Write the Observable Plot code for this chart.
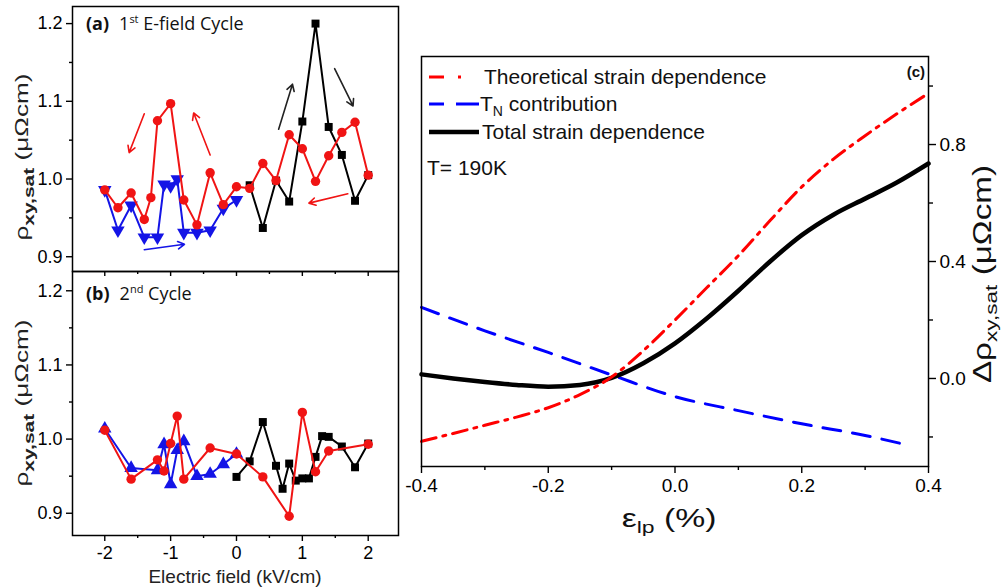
<!DOCTYPE html>
<html><head><meta charset="utf-8">
<script src="https://cdn.jsdelivr.net/npm/d3@7"></script>
<script src="https://cdn.jsdelivr.net/npm/@observablehq/plot@0.6"></script>
<style>
body{margin:0;background:#fff;}
#wrap{position:relative;width:1002px;height:588px;overflow:hidden;background:#fff;}
</style></head><body><div id="wrap"></div>
<script>
// ---------- Panel (a): 1st E-field cycle ----------
const aRedE   = [-2,-1.8,-1.6,-1.4,-1.3,-1.2,-1.0,-0.8,-0.6,-0.4,-0.2,0,0.2,0.4,0.6,0.8,1.0,1.2,1.4,1.6,1.8,2.0];
const aRedR   = [0.986,0.963,0.982,0.948,0.976,1.075,1.097,0.973,0.941,1.008,0.967,0.990,0.988,1.020,0.998,1.057,1.039,0.997,1.030,1.060,1.073,1.005];
const aBlueE  = [-2,-1.8,-1.6,-1.4,-1.2,-1.1,-1.0,-0.9,-0.8,-0.6,-0.4,-0.2,0];
const aBlueR  = [0.986,0.934,0.966,0.925,0.925,0.993,0.991,1.000,0.931,0.931,0.934,0.962,0.973];
const aBlackE = [0.2,0.4,0.6,0.8,1.0,1.2,1.4,1.6,1.8,2.0];
const aBlackR = [0.992,0.937,0.998,0.971,1.074,1.200,1.067,1.031,0.972,1.005];
// annotation arrows (data units): [x1,y1,x2,y2,color]
const aArrows = [
  [-1.40,1.084,-1.63,1.034,"red"],
  [-0.40,1.031,-0.65,1.085,"red"],
  [0.64,1.064,0.85,1.122,"black"],
  [1.49,1.142,1.77,1.094,"black"],
  [1.69,0.981,1.10,0.969,"red"],
  [-1.40,0.909,-0.79,0.916,"blue"]
];
// ---------- Panel (b): 2nd cycle ----------
const bBlueE  = [-2,-1.6,-1.2,-1.1,-1.0,-0.9,-0.8,-0.6,-0.4,-0.2,0];
const bBlueR  = [1.014,0.961,0.958,0.993,0.939,0.985,0.997,0.950,0.953,0.966,0.980];
const bRedE   = [-2,-1.6,-1.2,-1.1,-1.0,-0.9,-0.8,-0.4,0,0.4,0.8,1.0,1.2,1.4,2.0];
const bRedR   = [1.012,0.946,0.972,0.957,0.994,1.031,0.946,0.988,0.980,0.949,0.896,1.036,0.956,0.984,0.993];
const bBlackE = [0,0.2,0.4,0.6,0.7,0.8,0.9,1.0,1.1,1.2,1.3,1.4,1.6,1.8,2.0];
const bBlackR = [0.949,0.970,1.023,0.964,0.933,0.967,0.944,0.947,0.947,0.976,1.004,1.003,0.990,0.962,0.994];
// ---------- Panel (c): strain dependence ----------
const cStrain = [-0.4,-0.35,-0.3,-0.25,-0.2,-0.15,-0.1,-0.05,0,0.05,0.1,0.15,0.2,0.25,0.3,0.35,0.4];
const cTheory = [-0.215,-0.188,-0.160,-0.132,-0.100,-0.055,0.005,0.095,0.200,0.310,0.420,0.540,0.655,0.750,0.830,0.905,0.975];
const cTotal  = [0.014,0.000,-0.012,-0.022,-0.028,-0.022,0.002,0.052,0.120,0.205,0.300,0.400,0.490,0.560,0.615,0.670,0.735];
const cTNStrain = [-0.4,-0.3,-0.2,-0.1,0,0.1,0.2,0.3,0.37];
const cTN       = [0.243,0.163,0.089,0.012,-0.062,-0.110,-0.155,-0.195,-0.229];

const yTicksAB = [0.9,1.0,1.1,1.2], yMinorAB = [0.95,1.05,1.15];
const xTicksAB = [-2,-1,0,1,2], xMinorAB = [-1.5,-0.5,0.5,1.5];
const xTicksC = [-0.4,-0.2,0,0.2,0.4], xMinorC = [-0.3,-0.1,0.1,0.3];
const yTicksC = [0,0.4,0.8], yMinorC = [-0.2,0.2,0.6,1.0];

const RED = "#f01414", BLUE = "#1414e6";
const FONT = '"Liberation Sans", Arial, sans-serif';
const STYLE = `overflow:visible;background:transparent;font-family:${FONT};`;
const rows = (xs, ys) => xs.map((x, i) => ({x, y: ys[i]}));
const triDown = {draw(ctx, size){ const y = -Math.sqrt(size / (Math.sqrt(3) * 3)); ctx.moveTo(0, -2*y); ctx.lineTo(-Math.sqrt(3)*y, y); ctx.lineTo(Math.sqrt(3)*y, y); ctx.closePath(); }};

const wrap = document.getElementById("wrap");
function place(svg, left, top){ svg.style.position = "absolute"; svg.style.left = left + "px"; svg.style.top = top + "px"; wrap.appendChild(svg); return d3.select(svg); }
const blank = () => "";

function seriesMarks(red, blue, black, blueSymbol){
  return [
    Plot.line(blue, {x:"x", y:"y", stroke:BLUE, strokeWidth:2}),
    Plot.dot(blue, {x:"x", y:"y", symbol:blueSymbol, r:5, fill:BLUE}),
    Plot.line(black, {x:"x", y:"y", stroke:"black", strokeWidth:2}),
    Plot.dot(black, {x:"x", y:"y", symbol:"square", r:4.5, fill:"black"}),
    Plot.line(red, {x:"x", y:"y", stroke:RED, strokeWidth:2}),
    Plot.dot(red, {x:"x", y:"y", symbol:"circle", r:4.7, fill:RED})
  ];
}
function leftAxes(){
  return [
    Plot.axisY(yTicksAB, {anchor:"left", tickSize:6, tickPadding:4, tickFormat:d=>d.toFixed(1), fontSize:18, label:null, strokeWidth:1.4}),
    Plot.axisY(yMinorAB, {anchor:"left", tickSize:3, tickFormat:blank, label:null, strokeWidth:1.4})
  ];
}

// Panel (a)
const svgA = Plot.plot({
  width:400, height:272, marginLeft:72, marginRight:2, marginTop:6, marginBottom:1,
  style: STYLE,
  x:{domain:[-2.49,2.46], label:null}, y:{domain:[0.881,1.222], label:null},
  marks:[
    ...leftAxes(),
    Plot.axisX(xTicksAB, {anchor:"bottom", tickSize:5, tickFormat:blank, label:null, strokeWidth:1.4}),
    Plot.axisX(xMinorAB, {anchor:"bottom", tickSize:3, tickFormat:blank, label:null, strokeWidth:1.4}),
    ...seriesMarks(rows(aRedE,aRedR), rows(aBlueE,aBlueR), rows(aBlackE,aBlackR), triDown),
    Plot.arrow(aArrows, {x1:d=>d[0], y1:d=>d[1], x2:d=>d[2], y2:d=>d[3], stroke:d=>d[4]==="red"?RED:d[4]==="blue"?BLUE:"#222", strokeWidth:1.6, headLength:7}),
    Plot.frame({stroke:"black", strokeWidth:1.5})
  ]
});
const A = place(svgA, 0, 0);

// Panel (b)
const svgB = Plot.plot({
  width:400, height:323, marginLeft:72, marginRight:2, marginTop:6, marginBottom:53,
  style: STYLE,
  x:{domain:[-2.49,2.46], label:null}, y:{domain:[0.870,1.226], label:null},
  marks:[
    ...leftAxes(),
    Plot.axisX(xTicksAB, {anchor:"bottom", tickSize:6, tickPadding:5, tickFormat:d=>String(d), fontSize:18, label:null, strokeWidth:1.4}),
    Plot.axisX(xMinorAB, {anchor:"bottom", tickSize:3, tickFormat:blank, label:null, strokeWidth:1.4}),
    ...seriesMarks(rows(bRedE,bRedR), rows(bBlueE,bBlueR), rows(bBlackE,bBlackR), "triangle"),
    Plot.frame({stroke:"black", strokeWidth:1.5})
  ]
});
const B = place(svgB, 0, 265);

// Panel (c)
const svgC = Plot.plot({
  width:602, height:588, marginLeft:21, marginRight:74, marginTop:56, marginBottom:122,
  style: STYLE,
  x:{domain:[-0.4,0.4], label:null}, y:{domain:[-0.301,1.101], label:null},
  marks:[
    Plot.axisX(xTicksC, {anchor:"bottom", tickSize:7, tickPadding:5, tickFormat:d=>d.toFixed(1), fontSize:19, label:null, strokeWidth:1.4}),
    Plot.axisX(xMinorC, {anchor:"bottom", tickSize:4, tickFormat:blank, label:null, strokeWidth:1.4}),
    Plot.axisY(yTicksC, {anchor:"right", tickSize:7, tickPadding:4, tickFormat:d=>d.toFixed(1), fontSize:19, label:null, strokeWidth:1.4}),
    Plot.axisY(yMinorC, {anchor:"right", tickSize:4, tickFormat:blank, label:null, strokeWidth:1.4}),
    Plot.line(rows(cTNStrain,cTN), {x:"x", y:"y", stroke:"#0000ff", strokeWidth:3, strokeDasharray:"18,12", curve:"monotone-x"}),
    Plot.line(rows(cStrain,cTotal), {x:"x", y:"y", stroke:"black", strokeWidth:4.5, curve:"monotone-x"}),
    Plot.line(rows(cStrain,cTheory), {x:"x", y:"y", stroke:"#ff0000", strokeWidth:3, strokeDasharray:"15,7,3,7", curve:"monotone-x"}),
    Plot.frame({stroke:"black", strokeWidth:1.5})
  ]
});
const C = place(svgC, 400, 0);

// ---------- text annotations ----------
function yTitle(sel, cx, cy, size){
  const t = sel.append("text").attr("transform", `translate(${cx},${cy}) rotate(-90) scale(1.38,1)`)
    .attr("text-anchor","middle").attr("font-family", FONT).attr("font-size", size).attr("fill","#222");
  t.append("tspan").text("ρ");
  t.append("tspan").attr("dy", size*0.3).attr("font-size", size*0.8).attr("font-weight","bold").text("xy,sat");
  t.append("tspan").attr("dy", -size*0.3).text(" (μΩcm)");
}
yTitle(A, 28, 157, 19);
yTitle(B, 28, 403-265, 19);

function panelLabel(sel, x, y, tag, num, sup, rest){
  const t = sel.append("text").attr("x", x).attr("y", y).attr("text-anchor","start")
    .attr("font-family", '"Open Sans", Lato, sans-serif').attr("font-size", 18).attr("fill","#111");
  t.append("tspan").attr("font-weight","bold").text(tag);
  t.append("tspan").attr("dx", 10).text(num);
  t.append("tspan").attr("dy", -7).attr("font-size", 11).text(sup);
  t.append("tspan").attr("dy", 7).text(rest);
}
panelLabel(A, 86, 30, "(a)", "1", "st", " E-field Cycle");
panelLabel(B, 86, 300-265, "(b)", "2", "nd", " Cycle");

B.append("text").attr("x", 235).attr("y", 583-265).attr("text-anchor","middle")
  .attr("font-family", FONT).attr("font-size", 19).attr("fill","#222").text("Electric field (kV/cm)");

// panel (c) legend and labels (svg offset 400)
const L = C.append("g").attr("font-family", FONT).attr("font-size", 21).attr("fill","#111").attr("text-anchor","start");
const legend = [
  {y:77, stroke:"#ff0000", w:3, dash:"15,14,3,200", x2:465, label:"Theoretical strain dependence", tx:484},
  {y:104, stroke:"#0000ff", w:3, dash:"15,12,23", x2:479, label:null, tx:480},
  {y:132, stroke:"black", w:4.5, dash:null, x2:479, label:"Total strain dependence", tx:482}
];
legend.forEach(d => {
  const ln = L.append("line").attr("x1", 429-400).attr("x2", d.x2-400).attr("y1", d.y).attr("y2", d.y)
    .attr("stroke", d.stroke).attr("stroke-width", d.w);
  if (d.dash) ln.attr("stroke-dasharray", d.dash);
  const t = L.append("text").attr("x", d.tx-400).attr("y", d.y).attr("dy","0.35em");
  if (d.label) t.text(d.label);
  else { t.append("tspan").text("T"); t.append("tspan").attr("dy",5).attr("font-size",14).text("N"); t.append("tspan").attr("dy",-5).text(" contribution"); }
});
L.append("text").attr("x", 427-400).attr("y", 168).attr("dy","0.35em").text("T= 190K");
C.append("text").attr("x", 925-400).attr("y", 77).attr("text-anchor","end").attr("font-family", FONT)
  .attr("font-size", 15).attr("font-weight","bold").attr("fill","#111").text("(c)");
const xt = C.append("text").attr("transform", `translate(${669-400},527) scale(1.35,1)`).attr("text-anchor","middle").attr("font-family", FONT).attr("font-size", 25).attr("fill","#111");
xt.append("tspan").text("ε");
xt.append("tspan").attr("dy", 6).attr("font-size", 17).text("lp");
xt.append("tspan").attr("dy", -6).text(" (%)");
const yt = C.append("text").attr("transform", `translate(${991-400},274) rotate(-90) scale(1.33,1)`).attr("text-anchor","middle")
  .attr("font-family", FONT).attr("font-size", 25).attr("fill","#111");
yt.append("tspan").text("Δρ");
yt.append("tspan").attr("dy", 6).attr("font-size", 17).text("xy,sat");
yt.append("tspan").attr("dy", -6).text(" (μΩcm)");
</script>
</body></html>
